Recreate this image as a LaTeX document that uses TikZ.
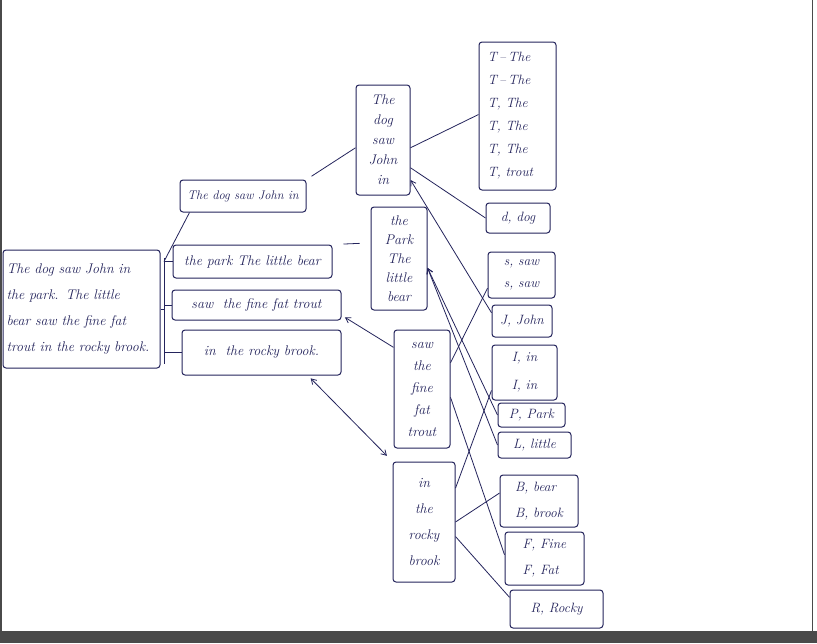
\documentclass[tikz,border=0pt]{standalone}
\usetikzlibrary{calc,arrows.meta}
\definecolor{ink}{HTML}{24245C}
\definecolor{frame}{HTML}{4A4A4A}
\begin{document}
\begin{tikzpicture}[x=1pt,y=-1pt,
  box/.style={draw=ink, line width=1pt, rounded corners=3pt, inner sep=0pt, text=ink},
  sz/.style 2 args={minimum width=#1pt, minimum height=#2pt},
  hfont/.style={font=\fontsize{14}{26}\selectfont\itshape},
  vfont/.style={font=\fontsize{14}{#1}\selectfont\itshape, align=center},
  rfont/.style={font=\fontsize{13.5}{#1}\selectfont\itshape, align=left},
  conn/.style={draw=ink, line width=0.8pt},
  arr/.style={-{Straight Barb[length=5pt,width=6pt]}}]
\useasboundingbox (0,0) rectangle (817,643);
\fill[white] (0,0) rectangle (817,643);
\fill[frame] (0,631) rectangle (817,643);
\fill[frame] (0,0) rectangle (2,643);
\draw[frame, line width=1pt] (812,0) -- (812,631);

% left sentence
\node[box, hfont, sz={157}{118}, align=left, text width=150pt] (main) at (81.5,309)
  {The dog saw John in\\ the park. The little\\ bear saw the fine fat\\ trout in the rocky brook.};

% first split
\node[box, font=\fontsize{12.5}{26}\selectfont\itshape, sz={126}{32}] (A) at (243,196) {The dog saw John in};
\node[box, hfont, sz={159}{33}] (B) at (252.5,261.5) {the park The little bear};
\node[box, hfont, sz={169}{30}] (C) at (256.5,305) {saw \ the fine fat trout};
\node[box, hfont, sz={159}{45}] (D) at (261.5,352.5) {in \ the rocky brook.};

% vertical boxes
\node[box, vfont=20, sz={54}{110}] (M1) at (383,140) {The\\dog\\saw\\John\\in};
\node[box, vfont=19, sz={56}{103}] (M2) at (399,258.5) {the\\Park\\The\\little\\bear};
\node[box, vfont=22, sz={56}{118}] (M3) at (422,389) {saw\\the\\fine\\fat\\trout};
\node[box, vfont=26, sz={62}{120}] (M4) at (424,522) {in\\the\\rocky\\brook};

% letter boxes
\node[box, rfont=23, sz={77}{148}, text width=60pt] (R1) at (517.5,116)
  {T\,--\,The\\T\,--\,The\\T, The\\T, The\\T, The\\T, trout};
\node[box, rfont=14, sz={64}{30}] (R2) at (518,218) {d, dog};
\node[box, rfont=22, sz={67}{46}] (R3) at (521.5,275) {s, saw\\s, saw};
\node[box, rfont=14, sz={60}{32}] (R4) at (522,321) {J, John};
\node[box, rfont=28, sz={65}{55}] (R5) at (524.5,372.5) {I, in\\I, in};
\node[box, rfont=14, sz={67}{24}] (R6) at (531.5,415) {P, Park};
\node[box, rfont=14, sz={73}{26}] (R7) at (534.5,445) {L, little};
\node[box, rfont=26, sz={78}{52}] (R8) at (539,501) {B, bear\\B, brook};
\node[box, rfont=26, sz={79}{53}] (R9) at (544.5,558.5) {F, Fine\\F, Fat};
\node[box, rfont=14, sz={93}{38}] (R10) at (556.5,609) {R, Rocky};

% bracket from the sentence
\coordinate (brtop) at (164,258);
\coordinate (brbot) at (164,364);
\draw[conn] (brtop) -- (brbot);
\draw[conn] (main.east) -- (main.east -| brtop);
\draw[conn] (brtop |- B.west) -- (B.west);
\draw[conn] (brtop |- C.west) -- (C.west);
\draw[conn] (brtop |- D.west) -- (D.west);
\draw[conn] (brtop |- B.west) -- ($(A.south west)+(10,0)$);

% first split to vertical boxes
\draw[conn, shorten <=6pt] (A.north east) -- ($(M1.north west)!0.57!(M1.south west)$);
\draw[conn, shorten <=11pt, shorten >=11pt] (B.north east) -- ($(M2.north west)!0.35!(M2.south west)$);
\draw[conn, arr, shorten >=4pt] ($(M3.north west)!0.15!(M3.south west)$) -- ($(C.north east)!0.83!(C.south east)$);
\draw[conn, {Straight Barb[length=5pt,width=6pt]}-{Straight Barb[length=5pt,width=6pt]}, shorten <=4pt, shorten >=8pt]
  ($(D.south west)!0.79!(D.south east)$) -- (M4.north west);

% vertical boxes to letter boxes
\draw[conn] ($(M1.north east)!0.57!(M1.south east)$) -- ($(R1.north west)!0.49!(R1.south west)$);
\draw[conn] ($(M1.north east)!0.75!(M1.south east)$) -- (R2.west);
\draw[conn, arr] ($(R4.north west)!0.25!(R4.south west)$) -- ($(M1.north east)!0.86!(M1.south east)$);
\draw[conn, arr] (R6.west) -- ($(M2.north east)!0.59!(M2.south east)$);
\draw[conn, arr] (R7.west) -- ($(M2.north east)!0.59!(M2.south east)$);
\draw[conn] ($(R3.north west)!0.78!(R3.south west)$) -- ($(M3.north east)!0.28!(M3.south east)$);
\draw[conn] ($(R5.north west)!0.82!(R5.south west)$) -- ($(M4.north east)!0.22!(M4.south east)$);
\draw[conn] ($(M3.north east)!0.57!(M3.south east)$) -- ($(R9.north west)!0.43!(R9.south west)$);
\draw[conn] ($(M4.north east)!0.5!(M4.south east)$) -- ($(R8.north west)!0.35!(R8.south west)$);
\draw[conn] ($(M4.north east)!0.62!(M4.south east)$) -- ($(R10.north west)!0.2!(R10.south west)$);
\end{tikzpicture}
\end{document}
